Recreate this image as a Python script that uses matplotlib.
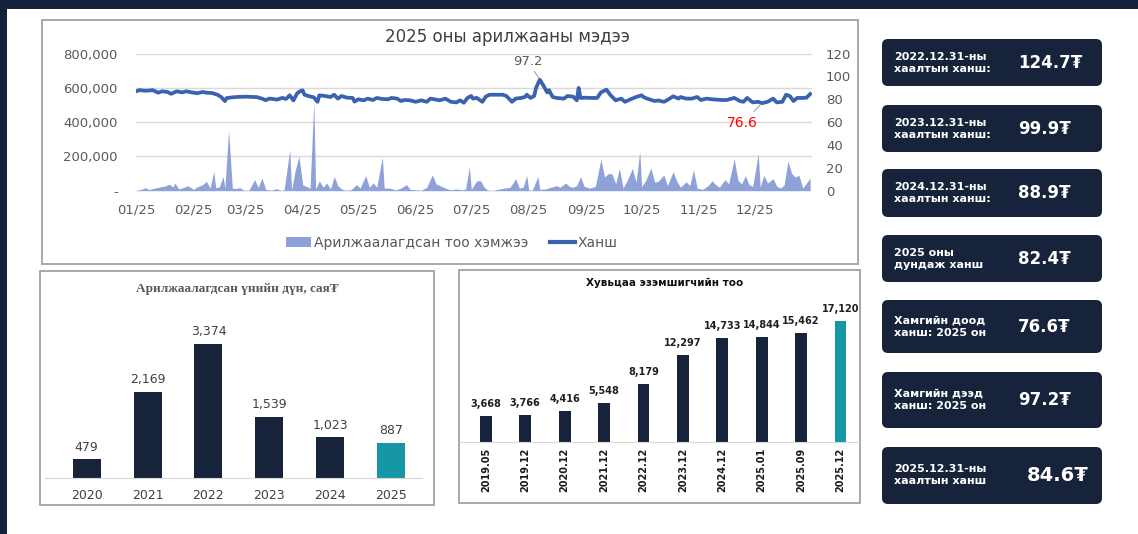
import matplotlib
matplotlib.use("Agg")
import matplotlib.pyplot as plt
from matplotlib.patches import Rectangle, FancyBboxPatch, Patch
from matplotlib.lines import Line2D
from matplotlib.ticker import FuncFormatter

plt.rcParams["font.family"] = ["DejaVu Sans"]

NAVY = "#16233a"
TEAL = "#1597a5"
VOL_C = "#8ea1d9"
LINE_C = "#3a62ae"
GREY_T = "#595959"
BORDER = "#a8a8a8"

# --- daily trading 2025 (day of year) ---
price_day = [0, 2, 4, 6, 9, 12, 14, 17, 19, 22, 25, 27, 30, 33, 36, 38, 41, 44, 46, 48,
             49, 52, 54, 57, 60, 63, 65, 68, 70, 72, 74, 76, 79, 81, 83, 85, 87, 89, 90, 91,
             93, 96, 98, 99, 102, 105, 107, 109, 111, 114, 117, 118, 120, 123, 125, 128, 130, 133, 136, 138,
             141, 143, 145, 148, 151, 154, 157, 159, 162, 164, 167, 170, 173, 175, 177, 179, 181, 182, 184, 187,
             189, 191, 195, 198, 200, 203, 205, 208, 210, 211, 213, 215, 216, 218, 220, 222, 223, 225, 227, 231,
             233, 236, 238, 239, 240, 243, 245, 249, 251, 254, 256, 259, 262, 264, 267, 270, 273, 274, 276, 280,
             282, 285, 287, 290, 293, 294, 297, 300, 303, 305, 308, 311, 316, 319, 323, 326, 328, 330, 333, 336,
             338, 341, 344, 346, 349, 351, 353, 355, 357, 360, 362, 364]
price = [87.0, 88.1, 87.6, 87.5, 88.0, 85.8, 87.0, 86.4, 84.8, 87.0, 86.0, 87.0, 86.1, 85.3, 86.4, 85.8, 85.5, 84.0, 82.0, 78.4,
         81.1, 81.7, 82.0, 82.2, 82.3, 82.0, 82.0, 80.6, 79.2, 80.6, 80.3, 79.7, 81.2, 80.3, 83.5, 79.0, 85.2, 87.5, 87.8, 84.0,
         82.9, 81.7, 77.8, 83.5, 82.9, 82.0, 84.0, 80.6, 82.9, 81.4, 81.2, 78.0, 80.0, 79.1, 80.6, 79.4, 81.2, 80.3, 80.0, 81.2,
         80.6, 78.5, 79.4, 79.1, 77.8, 79.1, 77.8, 80.6, 79.7, 79.1, 80.6, 77.8, 77.3, 79.1, 77.0, 81.2, 82.9, 80.6, 81.2, 77.8,
         82.6, 84.0, 84.0, 84.0, 82.9, 77.8, 80.6, 81.2, 82.0, 84.0, 81.2, 82.9, 90.0, 97.2, 92.0, 86.0, 88.0, 82.0, 81.2, 80.6,
         82.9, 82.3, 79.1, 90.0, 81.2, 81.4, 81.2, 81.2, 86.0, 88.5, 84.0, 79.1, 80.6, 77.8, 80.0, 82.0, 83.5, 82.0, 80.6, 78.5,
         79.0, 77.8, 79.4, 82.6, 80.6, 82.0, 80.6, 80.6, 82.0, 79.4, 80.6, 80.0, 79.4, 79.4, 81.2, 78.5, 77.8, 81.2, 77.3, 77.8,
         76.6, 77.8, 80.6, 77.3, 77.8, 84.0, 82.9, 78.5, 81.2, 81.2, 81.4, 84.6]

vol_day = [0, 3, 5, 7, 10, 13, 16, 18, 20, 21, 23, 26, 28, 31, 33, 36, 38, 40, 42, 43,
           45, 47, 48, 50, 52, 54, 56, 58, 61, 64, 66, 68, 70, 73, 76, 78, 80, 83, 84, 86,
           88, 90, 92, 94, 96, 97, 99, 101, 103, 105, 107, 109, 111, 113, 116, 119, 121, 124, 126, 128,
           130, 133, 134, 137, 140, 143, 146, 148, 151, 154, 157, 160, 162, 164, 167, 170, 173, 176, 178, 180,
           181, 184, 186, 188, 190, 193, 196, 199, 202, 205, 207, 209, 211, 212, 214, 217, 218, 221, 224, 227,
           229, 232, 234, 236, 238, 240, 242, 245, 248, 251, 253, 255, 257, 259, 261, 263, 265, 268, 270, 272,
           273, 275, 278, 280, 282, 285, 287, 290, 292, 294, 297, 299, 301, 303, 306, 309, 311, 313, 315, 318,
           320, 323, 325, 327, 329, 331, 333, 336, 337, 339, 341, 344, 346, 348, 350, 352, 354, 356, 358, 360,
           362, 364]
vol = [2, 8, 18, 6, 15, 22, 28, 38, 22, 45, 10, 20, 30, 8, 22, 35, 55, 15, 112, 18,
       22, 84, 15, 352, 15, 12, 18, 4, 3, 65, 20, 74, 8, 3, 12, 2, 5, 238, 5, 120,
       199, 35, 25, 15, 520, 10, 57, 20, 45, 10, 82, 30, 10, 3, 5, 35, 15, 88, 20, 45,
       20, 197, 15, 15, 5, 15, 35, 8, 5, 3, 20, 93, 40, 30, 15, 5, 10, 5, 10, 140,
       8, 57, 58, 20, 3, 2, 10, 15, 20, 70, 15, 20, 88, 5, 3, 82, 8, 10, 20, 30,
       20, 45, 25, 20, 30, 82, 25, 15, 25, 182, 80, 100, 98, 40, 130, 15, 55, 130, 50, 228,
       25, 55, 132, 50, 55, 92, 30, 111, 55, 20, 52, 30, 120, 15, 8, 30, 58, 35, 20, 65,
       40, 185, 60, 40, 88, 35, 25, 218, 20, 90, 45, 70, 25, 15, 35, 173, 100, 80, 90, 15,
       45, 72]
vol = [v * 1000 for v in vol]

month_day = [0, 31, 59, 90, 120, 151, 181, 212, 243, 273, 304, 334]
month_lbl = ["01/25", "02/25", "03/25", "04/25", "05/25", "06/25",
             "07/25", "08/25", "09/25", "10/25", "11/25", "12/25"]

# --- traded value by year, mln MNT ---
val_years = ["2020", "2021", "2022", "2023", "2024", "2025"]
val_amt = [479, 2169, 3374, 1539, 1023, 887]

# --- shareholders ---
sh_dates = ["2019.05", "2019.12", "2020.12", "2021.12", "2022.12",
            "2023.12", "2024.12", "2025.01", "2025.09", "2025.12"]
sh_count = [3668, 3766, 4416, 5548, 8179, 12297, 14733, 14844, 15462, 17120]

# --- info cards ---
card_labels = ["2022.12.31-ны\nхаалтын ханш:", "2023.12.31-ны\nхаалтын ханш:",
               "2024.12.31-ны\nхаалтын ханш:", "2025 оны\nдундаж ханш",
               "Хамгийн доод\nханш: 2025 он", "Хамгийн дээд\nханш: 2025 он",
               "2025.12.31-ны\nхаалтын ханш"]
card_values = ["124.7₮", "99.9₮", "88.9₮", "82.4₮", "76.6₮", "97.2₮", "84.6₮"]
card_y = [(39, 86), (105, 152), (169, 217), (235, 282), (300, 353), (372, 428), (447, 504)]

W, H = 1138, 534


def rect(x0, y0, x1, y1):
    return [x0 / W, 1 - y1 / H, (x1 - x0) / W, (y1 - y0) / H]


fig = plt.figure(figsize=(W / 100, H / 100), dpi=100)

# background layer in pixel coordinates
bg = fig.add_axes([0, 0, 1, 1])
bg.set_xlim(0, W)
bg.set_ylim(H, 0)
bg.axis("off")
bg.add_patch(Rectangle((0, 0), W, 9, color="#13223a", lw=0))
bg.add_patch(Rectangle((0, 0), 7, H, color="#13223a", lw=0))
for (x0, y0, x1, y1) in [(42, 19.5, 858, 263.5), (40.5, 271, 434, 505), (459, 270, 860, 503)]:
    bg.add_patch(Rectangle((x0, y0), x1 - x0, y1 - y0, fill=False, ec=BORDER, lw=1.4))

for i, lbl in enumerate(card_labels):
    y0, y1 = card_y[i]
    bg.add_patch(FancyBboxPatch((882, y0), 220, y1 - y0,
                                boxstyle="round,pad=0,rounding_size=6", fc=NAVY, ec="none"))
    ym = (y0 + y1) / 2
    bg.text(894, ym, lbl, color="white", fontsize=8, fontweight="bold",
            va="center", ha="left", linespacing=1.25)
    big = i == len(card_labels) - 1
    bg.text(1027 if big else 1018, ym, card_values[i], color="white",
            fontsize=14 if big else 12, fontweight="bold", va="center", ha="left")

bg.text(507, 37, "2025 оны арилжааны мэдээ", fontsize=12, color="#404040",
        ha="center", va="center")
bg.text(237, 289, "Арилжаалагдсан үнийн дүн, сая₮", fontsize=9.5, fontweight="bold",
        color="#595959", ha="center", va="center", family=["Liberation Serif", "DejaVu Serif"])
bg.text(665, 283, "Хувьцаа эзэмшигчийн тоо", fontsize=7.5, fontweight="bold",
        color="#111111", ha="center", va="center")

# --- top chart ---
ax = fig.add_axes(rect(136, 53.6, 812, 190.7))
ax.fill_between(vol_day, vol, 0, color=VOL_C, lw=0)
ax.set_ylim(0, 800000)
ax.set_xlim(0, 365)
ax.set_yticks([0, 200000, 400000, 600000, 800000])
ax.yaxis.set_major_formatter(FuncFormatter(lambda v, p: "-" if v == 0 else f"{v:,.0f}"))
ax.set_xticks(month_day)
ax.set_xticklabels(month_lbl)
ax.grid(axis="y", color="#d9d9d9", lw=1)
ax.set_axisbelow(True)
for s in ax.spines.values():
    s.set_visible(False)
ax.tick_params(axis="y", length=0, pad=13, labelsize=9.5, labelcolor=GREY_T)
ax.tick_params(axis="x", length=0, pad=9, labelsize=9.5, labelcolor=GREY_T)

ax2 = ax.twinx()
ax2.plot(price_day, price, color=LINE_C, lw=2.7, solid_joinstyle="round")
ax2.set_ylim(0, 120)
ax2.set_yticks(range(0, 121, 20))
for s in ax2.spines.values():
    s.set_visible(False)
ax2.tick_params(axis="y", length=0, pad=10, labelsize=9.5, labelcolor=GREY_T)
for lb in ax2.get_yticklabels():
    lb.set_ha("left")

imax = price.index(max(price))
imin = price.index(min(price))
ax2.annotate(f"{price[imax]:.1f}", xy=(price_day[imax], price[imax]), xytext=(211.5, 113.5),
             ha="center", va="center", fontsize=9.5, color=GREY_T,
             arrowprops=dict(arrowstyle="-", color="#a6a6a6", lw=0.8, shrinkA=1, shrinkB=1))
ax2.annotate(f"{price[imin]:.1f}", xy=(price_day[imin], price[imin]), xytext=(327.5, 59),
             ha="center", va="center", fontsize=10, color="#ff0000",
             arrowprops=dict(arrowstyle="-", color="#a6a6a6", lw=0.8, shrinkA=2, shrinkB=1))

handles = [Patch(facecolor=VOL_C, edgecolor="none"), Line2D([], [], color=LINE_C, lw=3)]
fig.legend(handles, ["Арилжаалагдсан тоо хэмжээ", "Ханш"], loc="center",
           bbox_to_anchor=(452 / W, 1 - 243 / H), ncol=2, frameon=False, fontsize=10,
           labelcolor=GREY_T, handlelength=1.8, handletextpad=0.2, columnspacing=1.6)

# --- bottom left: traded value ---
axl = fig.add_axes(rect(45, 318.7, 421.5, 478.3))
xl = range(len(val_years))
colors_l = [NAVY] * (len(val_years) - 1) + [TEAL]
bars = axl.bar(xl, val_amt, width=0.46, color=colors_l)
axl.bar_label(bars, labels=[f"{v:,}" for v in val_amt], padding=4, fontsize=9, color="#404040")
axl.set_xlim(-0.684, 5.5)
axl.set_ylim(0, 4000)
axl.set_xticks(list(xl))
axl.set_xticklabels(val_years)
axl.set_yticks([])
for k, s in axl.spines.items():
    s.set_visible(k == "bottom")
axl.spines["bottom"].set_color("#d9d9d9")
axl.tick_params(axis="x", length=0, pad=8, labelsize=9, labelcolor="#404040")
axl.patch.set_alpha(0)

# --- bottom right: shareholders ---
axr = fig.add_axes(rect(459, 307.7, 859, 441.7))
xr = range(len(sh_dates))
colors_r = [NAVY] * (len(sh_dates) - 1) + [TEAL]
bars = axr.bar(xr, sh_count, width=0.3, color=colors_r)
axr.bar_label(bars, labels=[f"{v:,}" for v in sh_count], padding=5, fontsize=7,
              fontweight="bold", color="#1f1f1f")
axr.set_xlim(-0.68, 9.47)
axr.set_ylim(0, 19000)
axr.set_xticks(list(xr))
axr.set_xticklabels(sh_dates, rotation=90, fontweight="bold")
axr.set_yticks([])
for k, s in axr.spines.items():
    s.set_visible(k == "bottom")
axr.spines["bottom"].set_color("#d9d9d9")
axr.tick_params(axis="x", length=0, pad=4, labelsize=7, labelcolor="#1a1a1a")
axr.patch.set_alpha(0)

fig.savefig("out.png", dpi=100, facecolor="white")
plt.close(fig)
